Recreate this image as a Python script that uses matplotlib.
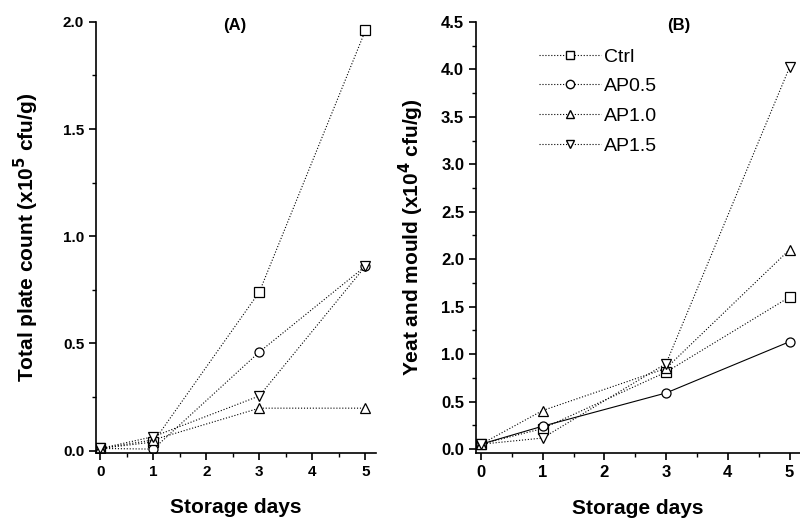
import numpy as np
from matplotlib import pyplot as plt
from matplotlib.ticker import MultipleLocator
from matplotlib.lines import Line2D

plt.rcParams['font.family'] = ['Liberation Sans', 'DejaVu Sans']

## DATI
days = [0, 1, 3, 5]
series = ['Ctrl', 'AP0.5', 'AP1.0', 'AP1.5']
markers = ['s', 'o', '^', 'v']

# (A) total plate count, x10^5 cfu/g
tpc_ctrl = [0.01, 0.04, 0.74, 1.96]
tpc_ap05 = [0.01, 0.007, 0.46, 0.86]
tpc_ap10 = [0.01, 0.05, 0.198, 0.198]
tpc_ap15 = [0.01, 0.065, 0.255, 0.86]

# (B) yeast and mould, x10^4 cfu/g
ym_ctrl = [0.05, 0.215, 0.81, 1.6]
ym_ap05 = [0.05, 0.24, 0.59, 1.13]
ym_ap10 = [0.05, 0.405, 0.85, 2.1]
ym_ap15 = [0.05, 0.115, 0.9, 4.02]

fig = plt.figure(figsize=(8, 5.21), dpi=100)
axA = fig.add_axes([0.12, 0.131, 0.35, 0.827])
axB = fig.add_axes([0.595, 0.131, 0.405, 0.827])

def disegna(ax, dati, stili):
    for nome, m, y, ls in zip(series, markers, dati, stili):
        ax.plot(days, y, linestyle=ls, color='black', linewidth=0.8,
                marker=m, markersize=6.5, markerfacecolor='white',
                markeredgecolor='black', markeredgewidth=0.9, label=nome)

disegna(axA, [tpc_ctrl, tpc_ap05, tpc_ap10, tpc_ap15], [':', ':', ':', ':'])
disegna(axB, [ym_ctrl, ym_ap05, ym_ap10, ym_ap15], [':', '-', ':', ':'])

for ax, fs in ((axA, 11), (axB, 12)):
    ax.spines['top'].set_visible(False)
    ax.spines['right'].set_visible(False)
    ax.spines['left'].set_linewidth(1.2)
    ax.spines['bottom'].set_linewidth(1.2)
    ax.xaxis.set_major_locator(MultipleLocator(1))
    ax.xaxis.set_minor_locator(MultipleLocator(0.5))
    ax.yaxis.set_major_locator(MultipleLocator(0.5))
    ax.yaxis.set_minor_locator(MultipleLocator(0.25))
    ax.yaxis.set_major_formatter(plt.FormatStrFormatter('%.1f'))
    ax.tick_params(which='major', direction='out', length=5, width=1.2, labelsize=fs)
    ax.tick_params(which='minor', direction='out', length=3, width=1.0)
    ax.set_xlabel('Storage days', fontsize=15, fontweight='bold', labelpad=14)

axA.set_xlim(-0.08, 5.2)
axA.set_ylim(-0.01, 2.0)
axA.set_ylabel('Total plate count (x10$^{\\mathbf{5}}$ cfu/g)', fontsize=15,
               fontweight='bold', labelpad=16)
axA.text(0.496, 1.008, '(A)', transform=axA.transAxes, ha='center', va='top',
         fontsize=12, fontweight='bold')

axB.set_xlim(-0.08, 5.17)
axB.set_ylim(-0.04, 4.5)
axB.set_ylabel('Yeat and mould (x10$^{\\mathbf{4}}$ cfu/g)', fontsize=15,
               fontweight='bold', labelpad=11)
axB.text(0.627, 1.008, '(B)', transform=axB.transAxes, ha='center', va='top',
         fontsize=12, fontweight='bold')

# legenda tutta tratteggiata come nell'originale
maniglie = [Line2D([], [], linestyle=':', color='black', linewidth=0.8, marker=m,
                   markersize=6, markerfacecolor='white', markeredgecolor='black')
            for m in markers]
axB.legend(maniglie, series, loc='upper left', bbox_to_anchor=(0.14, 0.98),
           frameon=False, fontsize=14, handlelength=3.2, handletextpad=0.15,
           labelspacing=0.62)

for lab in axA.get_xticklabels() + axA.get_yticklabels() + axB.get_xticklabels() + axB.get_yticklabels():
    lab.set_fontweight('bold')

plt.savefig('out.png', dpi=100)
